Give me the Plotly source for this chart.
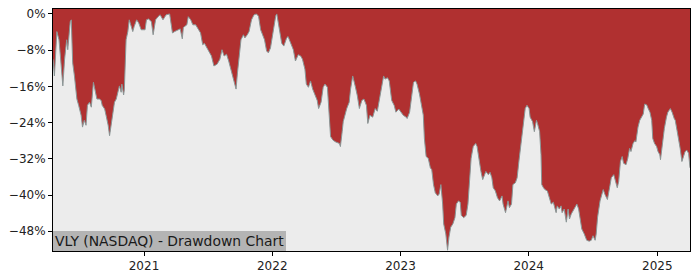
import plotly.graph_objects as go

# ---- data (drawdown in %) ----
dates = [
    "2020-04-17", "2020-04-21", "2020-04-28", "2020-05-04", "2020-05-08", "2020-05-15", "2020-05-20",
    "2020-05-26", "2020-05-29", "2020-06-05", "2020-06-08", "2020-06-12", "2020-06-17", "2020-06-24",
    "2020-06-29", "2020-07-06", "2020-07-10", "2020-07-15", "2020-07-20", "2020-07-24", "2020-07-30",
    "2020-08-04", "2020-08-10", "2020-08-14", "2020-08-20", "2020-08-27", "2020-09-01", "2020-09-04",
    "2020-09-11", "2020-09-15", "2020-09-21", "2020-09-25", "2020-09-30", "2020-10-05", "2020-10-09",
    "2020-10-14", "2020-10-19", "2020-10-23", "2020-10-28", "2020-10-30", "2020-11-04", "2020-11-06",
    "2020-11-11", "2020-11-16", "2020-11-20", "2020-11-30", "2020-12-04", "2020-12-11", "2020-12-17",
    "2020-12-24",
    "2021-01-04", "2021-01-08", "2021-01-14", "2021-01-22", "2021-01-27", "2021-02-03", "2021-02-10",
    "2021-02-16", "2021-02-24", "2021-03-05", "2021-03-15", "2021-03-23", "2021-03-29", "2021-04-08",
    "2021-04-14", "2021-04-20", "2021-04-23", "2021-05-03", "2021-05-07", "2021-05-14", "2021-05-20",
    "2021-05-28", "2021-06-07", "2021-06-11", "2021-06-17", "2021-06-22", "2021-07-02", "2021-07-12",
    "2021-07-19", "2021-07-28", "2021-08-05", "2021-08-11", "2021-08-17", "2021-08-24", "2021-08-30",
    "2021-09-07", "2021-09-14", "2021-09-20", "2021-09-24", "2021-09-29", "2021-10-04", "2021-10-11",
    "2021-10-15", "2021-10-22", "2021-10-27", "2021-11-03", "2021-11-10", "2021-11-17", "2021-11-23",
    "2021-11-29", "2021-12-03", "2021-12-10", "2021-12-16", "2021-12-21", "2021-12-27",
    "2022-01-04", "2022-01-11", "2022-01-14", "2022-01-21", "2022-01-28", "2022-02-03", "2022-02-11",
    "2022-02-15", "2022-02-22", "2022-03-02", "2022-03-08", "2022-03-16", "2022-03-23", "2022-03-28",
    "2022-04-04", "2022-04-08", "2022-04-14", "2022-04-20", "2022-04-26", "2022-05-02", "2022-05-09",
    "2022-05-13", "2022-05-20", "2022-05-26", "2022-05-31", "2022-06-07", "2022-06-13", "2022-06-16",
    "2022-06-23", "2022-07-01", "2022-07-11", "2022-07-14", "2022-07-19", "2022-07-22", "2022-08-01",
    "2022-08-08", "2022-08-12", "2022-08-18", "2022-08-25", "2022-08-31", "2022-09-06", "2022-09-13",
    "2022-09-19", "2022-09-26", "2022-09-30", "2022-10-06", "2022-10-14", "2022-10-21", "2022-10-27",
    "2022-11-02", "2022-11-09", "2022-11-14", "2022-11-18", "2022-11-25", "2022-11-30", "2022-12-07",
    "2022-12-14", "2022-12-19", "2022-12-27",
    "2023-01-03", "2023-01-09", "2023-01-17", "2023-01-20", "2023-01-27", "2023-02-02", "2023-02-07",
    "2023-02-13", "2023-02-17", "2023-02-24", "2023-03-02", "2023-03-07", "2023-03-10", "2023-03-15",
    "2023-03-21", "2023-03-27", "2023-03-31", "2023-04-05", "2023-04-10", "2023-04-17", "2023-04-21",
    "2023-04-26", "2023-05-01", "2023-05-04", "2023-05-10", "2023-05-15", "2023-05-19", "2023-05-24",
    "2023-05-30", "2023-06-05", "2023-06-09", "2023-06-15", "2023-06-20", "2023-06-23", "2023-06-30",
    "2023-07-07", "2023-07-12", "2023-07-17", "2023-07-21", "2023-07-27", "2023-08-03", "2023-08-07",
    "2023-08-14", "2023-08-18", "2023-08-23", "2023-08-28", "2023-09-01", "2023-09-08", "2023-09-13",
    "2023-09-18", "2023-09-22", "2023-09-28", "2023-10-04", "2023-10-10", "2023-10-17", "2023-10-20",
    "2023-10-27", "2023-11-03", "2023-11-07", "2023-11-13", "2023-11-17", "2023-11-24", "2023-11-29",
    "2023-12-04", "2023-12-08", "2023-12-13", "2023-12-18", "2023-12-22", "2023-12-27",
    "2024-01-02", "2024-01-05", "2024-01-12", "2024-01-17", "2024-01-23", "2024-01-26", "2024-02-01",
    "2024-02-05", "2024-02-07", "2024-02-12", "2024-02-16", "2024-02-23", "2024-02-29", "2024-03-05",
    "2024-03-11", "2024-03-15", "2024-03-19", "2024-03-22", "2024-03-28", "2024-04-02", "2024-04-05",
    "2024-04-11", "2024-04-17", "2024-04-22", "2024-04-26", "2024-05-01", "2024-05-06", "2024-05-13",
    "2024-05-17", "2024-05-22", "2024-05-28", "2024-05-31", "2024-06-07", "2024-06-14", "2024-06-21",
    "2024-06-27", "2024-07-02", "2024-07-08", "2024-07-11", "2024-07-15", "2024-07-22", "2024-07-26",
    "2024-07-31", "2024-08-05", "2024-08-12", "2024-08-19", "2024-08-23", "2024-08-30", "2024-09-04",
    "2024-09-09", "2024-09-13", "2024-09-18", "2024-09-23", "2024-09-27", "2024-10-04", "2024-10-09",
    "2024-10-14", "2024-10-18", "2024-10-24", "2024-10-29", "2024-11-01", "2024-11-07", "2024-11-12",
    "2024-11-15", "2024-11-22", "2024-11-26", "2024-12-02", "2024-12-06", "2024-12-11", "2024-12-16",
    "2024-12-19", "2024-12-24", "2024-12-30",
    "2025-01-03", "2025-01-08", "2025-01-10", "2025-01-16", "2025-01-21", "2025-01-27", "2025-01-31",
    "2025-02-07", "2025-02-12", "2025-02-18", "2025-02-21", "2025-02-26", "2025-03-03", "2025-03-07",
    "2025-03-12", "2025-03-17", "2025-03-21", "2025-03-26", "2025-03-31", "2025-04-04",
]

drawdown = [
    -10.0, -13.7, -3.9, -5.7, -9.3, -15.9, -10.0,
    -5.7, -7.9, -1.7, -1.3, -10.8, -13.7, -18.8,
    -20.2, -22.4, -25.0, -23.5, -24.6, -20.2, -19.5,
    -20.6, -15.1, -16.6, -18.8, -18.8, -19.1, -20.2,
    -21.0, -22.4, -24.6, -26.9, -23.8, -21.7, -19.5,
    -18.8, -17.3, -15.9, -17.3, -15.5, -17.9, -16.8,
    -5.7, -3.9, -1.3, -3.9, -2.8, -1.3, -2.0,
    -3.5,
    -3.5, -1.3, -1.1, -1.7, -4.6, -1.3, -0.6,
    -0.2, -1.3, -0.2, 0.0, -4.2, -3.9, -3.5,
    -3.3, -5.5, -3.0, -2.4, -0.6, -1.3, -2.4,
    -2.4, -3.5, -4.2, -6.8, -6.5, -7.9, -9.3,
    -11.5, -11.1, -10.0, -7.9, -9.3, -8.9, -10.4,
    -13.0, -15.1, -16.6, -13.0, -8.6, -5.7, -4.6,
    -5.3, -4.6, -3.9, -1.3, -0.2, 0.0, -0.5,
    -3.5, -4.2, -5.7, -8.2, -8.6, -7.5,
    -3.1, -0.4, 0.0, -3.5, -6.5, -7.1, -5.3,
    -5.0, -6.5, -7.9, -10.4, -9.0, -9.3, -10.0,
    -12.2, -15.5, -16.2, -14.8, -16.6, -17.7, -19.1,
    -20.9, -19.5, -16.2, -15.5, -16.2, -22.4, -27.1,
    -27.9, -28.3, -28.6, -29.3, -26.0, -23.8, -20.9,
    -19.5, -16.6, -13.7, -15.9, -18.0, -20.9, -19.1,
    -18.8, -20.2, -24.2, -22.4, -22.8, -20.9, -21.5,
    -19.1, -15.9, -13.7, -14.4, -14.1, -14.8, -19.1,
    -20.2, -21.7, -21.0,
    -21.7, -22.4, -22.8, -23.1, -21.7, -17.3, -15.1,
    -14.8, -15.5, -17.7, -20.2, -22.4, -27.5, -31.5,
    -31.9, -34.0, -34.4, -37.7, -39.5, -40.2, -39.8,
    -37.7, -42.0, -46.4, -48.6, -52.2, -49.3, -47.1,
    -46.4, -45.0, -42.0, -41.3, -41.6, -44.5, -45.0,
    -44.5, -42.0, -37.0, -31.9, -29.3, -28.6, -29.3,
    -33.3, -34.8, -36.6, -35.5, -34.8, -35.5, -35.0,
    -36.2, -38.4, -39.1, -40.6, -41.3, -40.2, -42.0,
    -43.9, -41.3, -42.8, -42.0, -37.7, -37.3, -36.2,
    -32.6, -29.7, -26.0, -22.4, -20.9, -20.2,
    -20.9, -22.8, -23.8, -26.0, -23.5, -24.2, -26.0,
    -31.1, -37.7, -38.4, -38.8, -39.1, -40.6, -42.0,
    -41.6, -42.8, -43.9, -42.4, -43.1, -42.4, -43.9,
    -43.1, -46.0, -43.1, -45.3, -44.2, -43.5, -42.4,
    -42.0, -43.1, -45.7, -47.5, -48.6, -50.0, -50.2,
    -50.0, -49.0, -50.0, -48.6, -44.9, -41.3, -39.9,
    -38.8, -39.9, -41.0, -38.0, -36.2, -35.5, -37.0,
    -38.4, -37.0, -32.6, -31.5, -33.0, -33.3, -31.9,
    -29.7, -30.4, -28.6, -28.0, -28.3, -25.0, -23.5,
    -23.1, -22.1, -19.9, -20.1, -20.9, -21.7, -23.5,
    -27.5, -28.6, -29.3,
    -30.4, -31.1, -32.2, -28.3, -25.3, -22.8, -21.7,
    -20.9, -21.7, -23.1, -23.5, -25.7, -27.5, -29.7,
    -32.6, -31.5, -30.4, -30.1, -30.8, -34.0,
]

y_tick_vals = [0, -8, -16, -24, -32, -40, -48]
y_tick_text = ["0%", "\u22128%", "\u221216%", "\u221224%", "\u221232%", "\u221240%", "\u221248%"]
x_tick_vals = ["2021-01-01", "2022-01-01", "2023-01-01", "2024-01-01", "2025-01-01"]
x_tick_text = ["2021", "2022", "2023", "2024", "2025"]
label_text = "VLY (NASDAQ) - Drawdown Chart"

# ---- styling ----
Y_RANGE = [-52.37, 1.09]
X_RANGE = ["2020-04-17", "2025-04-04"]
RED = "#B03030"
GREY_BG = "#ECECEC"
FONT = "DejaVu Sans"

baseline = [Y_RANGE[0] - 10] * len(dates)

fig = go.Figure()
fig.add_trace(go.Scatter(x=dates, y=baseline, mode="lines", line=dict(width=0),
                         hoverinfo="skip", showlegend=False))
fig.add_trace(go.Scatter(x=dates, y=drawdown, mode="lines",
                         line=dict(color="#8a9696", width=1),
                         fill="tonexty", fillcolor=GREY_BG, showlegend=False))

axis_common = dict(showline=True, linecolor="black", linewidth=1, mirror=True,
                   ticks="outside", ticklen=4, tickwidth=1, tickcolor="black",
                   showgrid=False, zeroline=False,
                   tickfont=dict(family=FONT, size=12, color="#222222"))

fig.update_layout(
    width=700, height=280,
    margin=dict(l=53, r=10, t=7, b=28),
    paper_bgcolor="white", plot_bgcolor=RED,
    xaxis=dict(type="date", range=X_RANGE, tickmode="array",
               tickvals=x_tick_vals, ticktext=x_tick_text, **axis_common),
    yaxis=dict(range=Y_RANGE, tickmode="array",
               tickvals=y_tick_vals, ticktext=y_tick_text, **axis_common),
    annotations=[dict(text=label_text, xref="paper", yref="paper", x=0, y=0,
                      xanchor="left", yanchor="bottom", showarrow=False,
                      bgcolor="#B4B4B4", borderpad=2, borderwidth=0,
                      font=dict(family=FONT, size=13.9, color="#1a1a1a"))],
)

fig.write_html("out.html")
